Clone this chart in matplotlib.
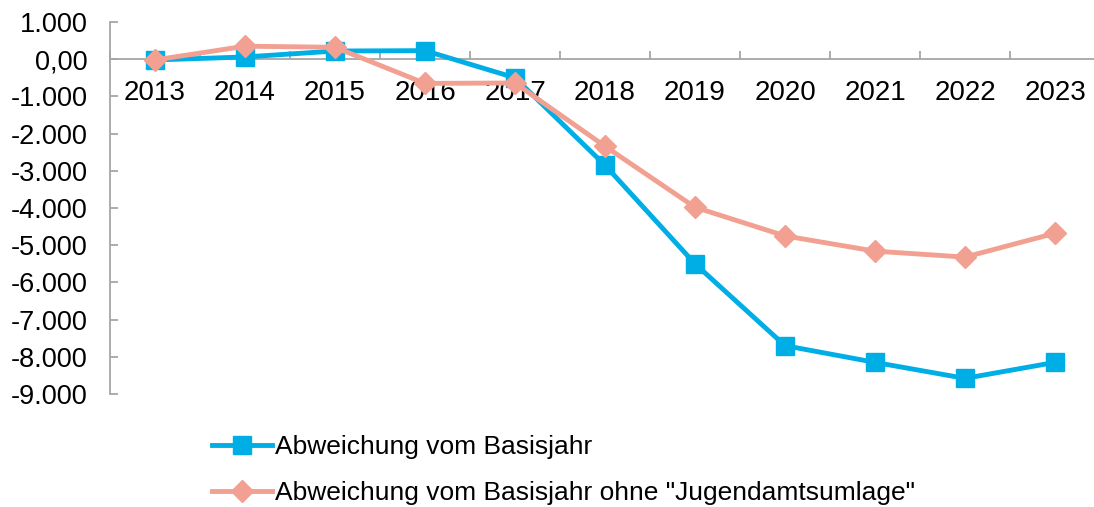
import matplotlib
matplotlib.use("Agg")
import matplotlib.pyplot as plt
from matplotlib.ticker import FixedLocator, FuncFormatter

years = ["2013", "2014", "2015", "2016", "2017", "2018", "2019", "2020", "2021", "2022", "2023"]
abw_basisjahr = [-20, 60, 220, 230, -500, -2850, -5500, -7700, -8150, -8580, -8150]
abw_ohne_jugend = [-20, 350, 320, -650, -640, -2340, -3980, -4750, -5160, -5320, -4680]

label_1 = "Abweichung vom Basisjahr"
label_2 = 'Abweichung vom Basisjahr ohne "Jugendamtsumlage"'

blue = "#00AEE6"
salmon = "#F2A091"
grey = "#A6A6A6"

plt.rcParams["font.family"] = ["Liberation Sans", "DejaVu Sans"]

W, H = 1094, 507
fig = plt.figure(figsize=(W / 100, H / 100), dpi=100)
ax = fig.add_axes([110 / W, (H - 394) / H, 990 / W, 372 / H])

x = list(range(len(years)))
ax.plot(x, abw_basisjahr, color=blue, lw=3.5, marker="s", ms=12.5,
        label=label_1, zorder=3)
ax.plot(x, abw_ohne_jugend, color=salmon, lw=3.5, marker="D", ms=11,
        label=label_2, zorder=4)

ax.set_xlim(-0.5, len(years) - 0.5)
ax.set_ylim(-9000, 1000)

# axes styling
for s in ["top", "right"]:
    ax.spines[s].set_visible(False)
ax.spines["bottom"].set_position(("data", 0))
for s in ["left", "bottom"]:
    ax.spines[s].set_color(grey)
    ax.spines[s].set_linewidth(1.3)

ax.set_xticks(x)
ax.set_xticklabels(years, fontsize=20)
ax.xaxis.set_minor_locator(FixedLocator([i - 0.5 for i in range(len(years) + 1)]))
ax.tick_params(axis="x", which="major", length=0, pad=15)
ax.tick_params(axis="x", which="minor", direction="in", length=6, color=grey, width=1.3)

yt = list(range(-9000, 1001, 1000))
ax.set_yticks(yt)

def fmt(v, pos):
    if v == 0:
        return "0,00"
    return f"{int(v):,}".replace(",", ".")

ax.yaxis.set_major_formatter(FuncFormatter(fmt))
ax.tick_params(axis="y", direction="in", length=6, color=grey, width=1.3,
               labelsize=19.5, pad=16)

leg = fig.legend(loc="upper left", bbox_to_anchor=(188 / W, 1 - 411 / H),
                 frameon=False, handlelength=2.3, handletextpad=0.1,
                 labelspacing=0.85,
                 prop={"family": ["Liberation Sans"], "size": 19})

fig.savefig("out.png", dpi=100)
